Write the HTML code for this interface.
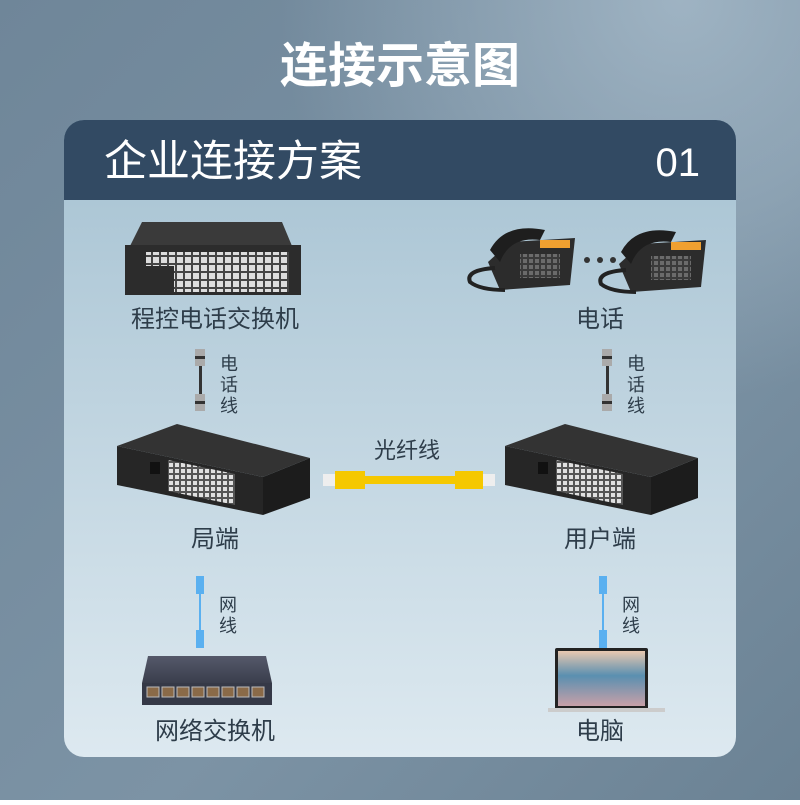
<!DOCTYPE html>
<html><head><meta charset="utf-8"><style>
body{margin:0;width:800px;height:800px;overflow:hidden;font-family:"Liberation Sans","Noto Sans CJK SC",sans-serif;}
</style></head><body>
<svg width="800" height="800" viewBox="0 0 800 800" xmlns="http://www.w3.org/2000/svg" font-family="Liberation Sans, Noto Sans CJK SC, sans-serif">
<defs>
<linearGradient id="bg" x1="0" y1="0" x2="1" y2="1"><stop offset="0" stop-color="#6f8699"/><stop offset="0.6" stop-color="#7c93a5"/><stop offset="1" stop-color="#6b8294"/></linearGradient>
<radialGradient id="glow" cx="0.85" cy="0" r="0.5"><stop offset="0" stop-color="#a8bccb" stop-opacity="0.8"/><stop offset="1" stop-color="#a8bccb" stop-opacity="0"/></radialGradient>
<linearGradient id="card" x1="0" y1="0" x2="0" y2="1"><stop offset="0" stop-color="#a6c2d2"/><stop offset="1" stop-color="#dde9f0"/></linearGradient>
<linearGradient id="sw" x1="0" y1="0" x2="0" y2="1"><stop offset="0" stop-color="#55596a"/><stop offset="1" stop-color="#3a3e4c"/></linearGradient>
<linearGradient id="scr" x1="0" y1="0" x2="0" y2="1"><stop offset="0" stop-color="#e8c8b0"/><stop offset="0.45" stop-color="#5a8fb0"/><stop offset="1" stop-color="#c8a0a8"/></linearGradient>
<pattern id="grid" width="8" height="8" patternUnits="userSpaceOnUse"><rect width="8" height="8" fill="#444"/><rect x="1" y="1" width="6" height="6" fill="#ddd"/></pattern>
<pattern id="grid2" width="6" height="6" patternUnits="userSpaceOnUse"><rect width="6" height="6" fill="#555"/><rect x="1" y="1" width="4" height="4" fill="#e0e0e0"/></pattern>
</defs>
<rect width="800" height="800" fill="url(#bg)"/>
<rect width="800" height="800" fill="url(#glow)"/>
<text x="400" y="82" text-anchor="middle" font-size="48" font-weight="bold" fill="#fff">连接示意图</text>
<rect x="64" y="120" width="672" height="637" rx="20" fill="url(#card)"/>
<path d="M84 120 H716 A20 20 0 0 1 736 140 V200 H64 V140 A20 20 0 0 1 84 120Z" fill="#324a63"/>
<text x="104" y="176" font-size="43" fill="#fff">企业连接方案</text>
<text x="700" y="176" font-size="40" fill="#fff" text-anchor="end">01</text>

<!-- exchange -->
<polygon points="142,222 282,222 292,246 130,246" fill="#3a3a3a"/>
<rect x="125" y="245" width="176" height="50" fill="#2c2c2c"/>
<rect x="146" y="252" width="28" height="14" fill="url(#grid)"/>
<rect x="174" y="252" width="115" height="40" fill="url(#grid)"/>
<text x="215" y="327" font-size="24" fill="#2e3d4a" text-anchor="middle">程控电话交换机</text>

<!-- phones -->
<g id="ph">
<polygon points="510,242 575,238 570,285 500,290 488,262" fill="#2c2c2c"/>
<path d="M490,250 Q505,222 545,230 L540,240 Q510,236 500,262 Z" fill="#1e1e1e"/>
<rect x="540" y="240" width="30" height="8" fill="#f0a030"/>
<rect x="520" y="254" width="40" height="24" fill="url(#grid2)" opacity="0.35"/>
<path d="M495,268 Q465,270 470,282 Q480,290 505,290" stroke="#222" stroke-width="4" fill="none"/>
</g>
<use href="#ph" x="131" y="2"/>
<circle cx="587" cy="260" r="3" fill="#333"/><circle cx="600" cy="260" r="3" fill="#333"/><circle cx="613" cy="260" r="3" fill="#333"/>
<text x="600" y="327" font-size="24" fill="#2e3d4a" text-anchor="middle">电话</text>

<!-- phone lines -->
<g id="pl">
<rect x="195" y="349" width="10" height="17" fill="#aaa"/><rect x="195" y="356" width="10" height="3" fill="#333"/>
<rect x="199" y="366" width="3" height="28" fill="#333"/>
<rect x="195" y="394" width="10" height="17" fill="#aaa"/><rect x="195" y="401" width="10" height="3" fill="#333"/>
<text x="220" y="370" font-size="18" fill="#2e3d4a">电</text>
<text x="220" y="391" font-size="18" fill="#2e3d4a">话</text>
<text x="220" y="412" font-size="18" fill="#2e3d4a">线</text>
</g>
<use href="#pl" x="407" y="0"/>

<!-- transceivers -->
<g id="tr">
<polygon points="117,446 177,424 310,458 263,477" fill="#333"/>
<polygon points="117,446 263,477 263,515 117,485" fill="#262626"/>
<polygon points="263,477 310,458 310,498 263,515" fill="#1c1c1c"/>
<polygon points="168,460 235,474 235,505 168,491" fill="url(#grid2)"/>
<rect x="150" y="462" width="10" height="12" fill="#111"/>
</g>
<use href="#tr" x="388" y="0"/>
<text x="215" y="547" font-size="24" fill="#2e3d4a" text-anchor="middle">局端</text>
<text x="600" y="547" font-size="24" fill="#2e3d4a" text-anchor="middle">用户端</text>

<!-- fiber -->
<text x="407" y="458" font-size="22" fill="#2e3d4a" text-anchor="middle">光纤线</text>
<rect x="323" y="474" width="12" height="12" fill="#eee"/>
<rect x="335" y="471" width="30" height="18" fill="#f5c800"/>
<rect x="365" y="476" width="90" height="8" fill="#f5c800"/>
<rect x="455" y="471" width="28" height="18" fill="#f5c800"/>
<rect x="483" y="474" width="12" height="12" fill="#eee"/>

<!-- network lines -->
<g id="nl">
<rect x="196" y="576" width="8" height="18" fill="#5ab0f0"/>
<rect x="199" y="594" width="2" height="40" fill="#5ab0f0"/>
<rect x="196" y="630" width="8" height="18" fill="#5ab0f0"/>
<text x="219" y="611" font-size="18" fill="#2e3d4a">网</text>
<text x="219" y="632" font-size="18" fill="#2e3d4a">线</text>
</g>
<use href="#nl" x="403" y="0"/>

<!-- switch -->
<polygon points="148,656 266,656 272,683 142,683" fill="url(#sw)"/>
<rect x="142" y="683" width="130" height="22" fill="#353947"/>
<g fill="#8a6a48" stroke="#bbb" stroke-width="1">
<rect x="147" y="687" width="12" height="10"/><rect x="162" y="687" width="12" height="10"/><rect x="177" y="687" width="12" height="10"/><rect x="192" y="687" width="12" height="10"/><rect x="207" y="687" width="12" height="10"/><rect x="222" y="687" width="12" height="10"/><rect x="237" y="687" width="12" height="10"/><rect x="252" y="687" width="12" height="10"/>
</g>
<text x="215" y="739" font-size="24" fill="#2e3d4a" text-anchor="middle">网络交换机</text>

<!-- laptop -->
<rect x="555" y="648" width="93" height="62" rx="2" fill="#222"/>
<rect x="558" y="651" width="87" height="55" fill="url(#scr)"/>
<rect x="548" y="708" width="117" height="4" fill="#ccc"/>
<text x="600" y="739" font-size="24" fill="#2e3d4a" text-anchor="middle">电脑</text>
</svg>
</body></html>
